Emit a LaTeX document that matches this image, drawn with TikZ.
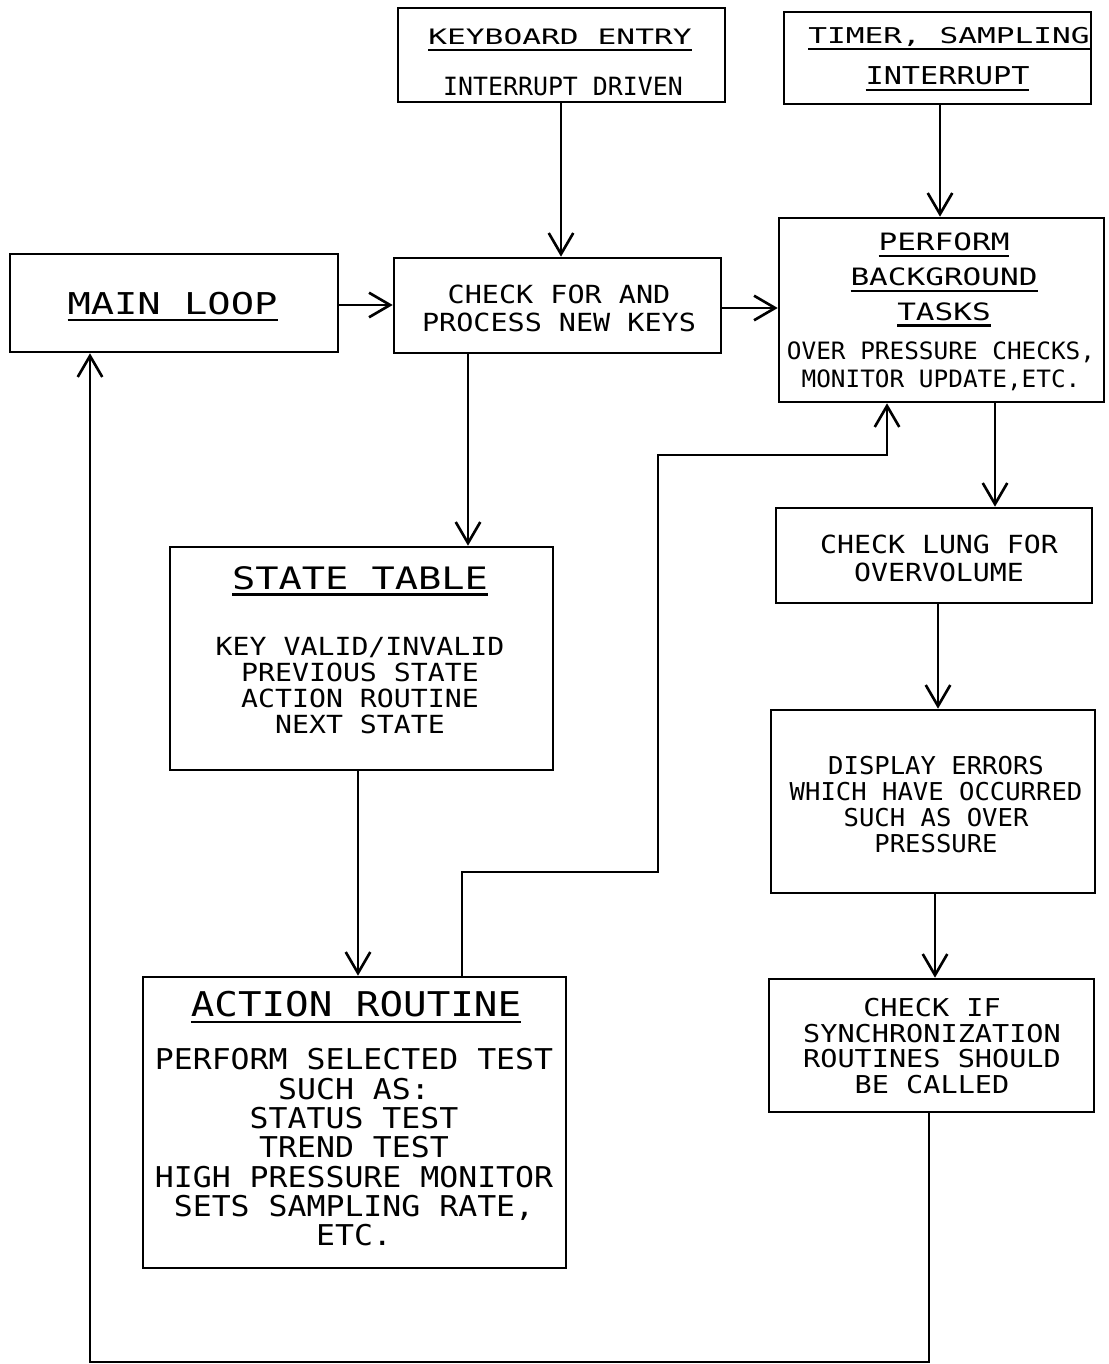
\documentclass[tikz,border=0pt]{standalone}
\usepackage{fontspec}
\setmainfont{DejaVu Sans Mono}
\usetikzlibrary{arrows.meta}
\newcommand{\ulin}[1]{\setbox0\hbox{#1}\rlap{\rule[-3.7pt]{\wd0}{1.4pt}}\box0}
\tikzset{
  box/.style={draw=black, line width=1.5pt, inner sep=0pt},
  txt/.style 2 args={inner sep=0pt, align=center, font=\fontsize{#1}{#2}\selectfont},
  arr/.style={line width=1.5pt, -{Straight Barb[length=12pt,width=14pt]}}
}
\begin{document}
\begin{tikzpicture}[x=0.02cm, y=-0.02cm]
  \useasboundingbox (0,0) rectangle (1108,1364);
  \node[box, minimum width=6.54cm, minimum height=1.88cm] (kbd) at (561.5,55) {};
  \node[box, minimum width=6.14cm, minimum height=1.84cm] (timer) at (937.5,58) {};
  \node[box, minimum width=6.56cm, minimum height=1.96cm] (main) at (174,303) {};
  \node[box, minimum width=6.54cm, minimum height=1.90cm] (keys) at (557.5,305.5) {};
  \node[box, minimum width=6.50cm, minimum height=3.68cm] (perf) at (941.5,310) {};
  \node[box, minimum width=7.66cm, minimum height=4.46cm] (state) at (361.5,658.5) {};
  \node[box, minimum width=6.32cm, minimum height=1.90cm] (lung) at (934,555.5) {};
  \node[box, minimum width=6.48cm, minimum height=3.66cm] (disp) at (933,801.5) {};
  \node[box, minimum width=8.46cm, minimum height=5.82cm] (act) at (354.5,1122.5) {};
  \node[box, minimum width=6.50cm, minimum height=2.66cm] (sync) at (931.5,1045.5) {};

  \node[txt={12.1}{14}, xscale=1.47, anchor=base] (kbd-h) at (560,44.5) {\ulin{KEYBOARD ENTRY}};
  \node[txt={14.3}{16}, xscale=0.99, anchor=base] (kbd-b) at (563,95.5) {INTERRUPT DRIVEN};
  \node[txt={12.4}{14}, xscale=1.43, anchor=base] (timer-a) at (949,44) {\ulin{TIMER, SAMPLING}};
  \node[txt={14}{16}, xscale=1.23, anchor=base] (timer-b) at (947.5,85) {\ulin{INTERRUPT}};
  \node[txt={17.1}{19}, xscale=1.29, anchor=base] (main-t) at (172.5,315) {\ulin{MAIN LOOP}};
  \node[txt={14.2}{15.9}, xscale=1.14, anchor=north] (keys-t) at (559,285) {CHECK FOR AND\\PROCESS NEW KEYS};
  \node[txt={13.6}{19.8}, xscale=1.3, anchor=north] (perf-h) at (944,232.7)
    {\ulin{PERFORM}\\\ulin{BACKGROUND}\\\ulin{TASKS}};
  \node[txt={13.6}{16}, xscale=1.02, anchor=north] (perf-b) at (941,341.7)
    {OVER PRESSURE CHECKS,\\MONITOR UPDATE,ETC.};
  \node[txt={17.6}{19}, xscale=1.25, anchor=base] (state-h) at (360,589.3) {\ulin{STATE TABLE}};
  \node[txt={14.2}{14.8}, xscale=1.13, anchor=north] (state-b) at (360,636.7)
    {KEY VALID/INVALID\\PREVIOUS STATE\\ACTION ROUTINE\\NEXT STATE};
  \node[txt={14.2}{16}, xscale=1.13, anchor=north] (lung-t) at (939,535) {CHECK LUNG FOR\\OVERVOLUME};
  \node[txt={14}{14.7}, xscale=1.04, anchor=north] (disp-t) at (936,756)
    {DISPLAY ERRORS\\WHICH HAVE OCCURRED\\SUCH AS OVER\\PRESSURE};
  \node[txt={19.4}{21}, xscale=1.15, anchor=base] (act-h) at (356,1016.7) {\ulin{ACTION ROUTINE}};
  \node[txt={16.3}{16.7}, xscale=1.10, anchor=north] (act-b) at (354,1048.3)
    {PERFORM SELECTED TEST\\SUCH AS:\\STATUS TEST\\TREND TEST\\HIGH PRESSURE MONITOR\\SETS SAMPLING RATE,\\ETC.};
  \node[txt={14}{14.6}, xscale=1.16, anchor=north] (sync-t) at (932,998)
    {CHECK IF\\SYNCHRONIZATION\\ROUTINES SHOULD\\BE CALLED};

  \draw[arr] (kbd.south -| 561,0) -- (keys.north -| 561,0);
  \draw[arr] (timer.south -| 940,0) -- (perf.north -| 940,0);
  \draw[arr] (main.east |- 0,305) -- (keys.west |- 0,305);
  \draw[arr] (keys.east |- 0,308) -- (perf.west |- 0,308);
  \draw[arr] (keys.south -| 468,0) -- (state.north -| 468,0);
  \draw[arr] (state.south -| 358,0) -- (act.north -| 358,0);
  \draw[arr] (act.north -| 462,0) |- (658,872) |- (887,455) -- (perf.south -| 887,0);
  \draw[arr] (perf.south -| 995,0) -- (lung.north -| 995,0);
  \draw[arr] (lung.south -| 938,0) -- (disp.north -| 938,0);
  \draw[arr] (disp.south -| 935,0) -- (sync.north -| 935,0);
  \draw[arr] (sync.south -| 929,0) |- (90,1362) -- (main.south -| 90,0);
\end{tikzpicture}
\end{document}
